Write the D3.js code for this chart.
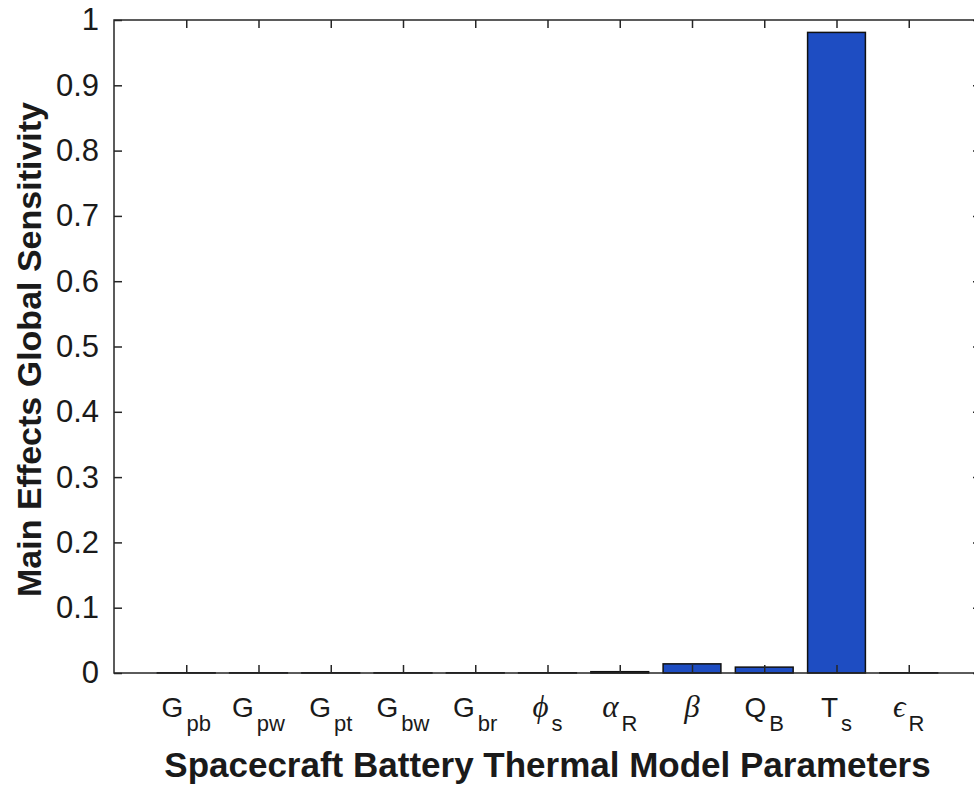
<!DOCTYPE html>
<html>
<head>
<meta charset="utf-8">
<script src="https://cdn.jsdelivr.net/npm/d3@7"></script>
<style>
  html, body { margin: 0; padding: 0; background: #fff; }
  svg { display: block; }
</style>
</head>
<body>
<svg id="chart" width="974" height="789"></svg>
<script>
// Parameter names: main symbol, subscript, and whether the symbol is a Greek letter
const paramSymbols = ["G", "G", "G", "G", "G", "\u03D5", "\u03B1", "\u03B2", "Q", "T", "\u03F5"];
const paramSubs    = ["pb", "pw", "pt", "bw", "br", "s", "R", "", "B", "s", "R"];
const paramGreek   = [false, false, false, false, false, true, true, true, false, false, true];

// Main effects (first-order) global sensitivity index of each parameter
const sensitivity = [0.0003, 0.0003, 0.0003, 0.0003, 0.0003, 0.0003, 0.002, 0.014, 0.009, 0.981, 0.0003];

const yTicks = [0, 0.1, 0.2, 0.3, 0.4, 0.5, 0.6, 0.7, 0.8, 0.9, 1];
const yTickLabels = ["0", "0.1", "0.2", "0.3", "0.4", "0.5", "0.6", "0.7", "0.8", "0.9", "1"];

const xTitle = "Spacecraft Battery Thermal Model Parameters";
const yTitle = "Main Effects Global Sensitivity";

const svg = d3.select("#chart");
const plot = { left: 114, right: 981, top: 20, bottom: 673 };
const axisColor = "#262626";
const textColor = "#1a1a1a";
const sansFont = "'Liberation Sans', Arial, Helvetica, sans-serif";
const serifFont = "'Liberation Serif', 'DejaVu Serif', serif";

const x = d3.scaleLinear().domain([0, sensitivity.length + 1]).range([plot.left, plot.right]);
const y = d3.scaleLinear().domain([0, 1]).range([plot.bottom, plot.top]);
const positions = sensitivity.map((_, i) => i + 1);
const barWidth = 0.8;

// Bars
svg.append("g")
  .selectAll("rect")
  .data(sensitivity)
  .join("rect")
  .attr("x", (d, i) => x(positions[i] - barWidth / 2))
  .attr("width", (d, i) => x(positions[i] + barWidth / 2) - x(positions[i] - barWidth / 2))
  .attr("y", d => y(d))
  .attr("height", d => y(0) - y(d))
  .attr("fill", "#1e4dc2")
  .attr("stroke", "#111")
  .attr("stroke-width", 1.5);

// Axes with inward ticks, box style
const tickLen = 8;
const styleAxis = g => {
  g.select(".domain").remove();
  g.selectAll(".tick line").attr("stroke", axisColor).attr("stroke-width", 1.5);
};

svg.append("g")
  .attr("transform", `translate(${plot.left},0)`)
  .call(d3.axisLeft(y).tickValues(yTicks).tickSize(-tickLen)
    .tickFormat((d, i) => yTickLabels[i]).tickPadding(15))
  .call(styleAxis)
  .call(g => g.selectAll(".tick text")
    .attr("font-family", sansFont).attr("font-size", 31).attr("fill", textColor));

svg.append("g")
  .attr("transform", `translate(${plot.right},0)`)
  .call(d3.axisRight(y).tickValues(yTicks).tickSize(-tickLen).tickFormat(""))
  .call(styleAxis);

svg.append("g")
  .attr("transform", `translate(0,${plot.bottom})`)
  .call(d3.axisBottom(x).tickValues(positions).tickSize(-tickLen).tickFormat(""))
  .call(styleAxis);

svg.append("g")
  .attr("transform", `translate(0,${plot.top})`)
  .call(d3.axisTop(x).tickValues(positions).tickSize(-tickLen).tickFormat(""))
  .call(styleAxis);

// Axes box
svg.append("rect")
  .attr("x", plot.left).attr("y", plot.top)
  .attr("width", plot.right - plot.left).attr("height", plot.bottom - plot.top)
  .attr("fill", "none").attr("stroke", axisColor).attr("stroke-width", 1.5);

// Category labels with subscripts
const labels = svg.append("g")
  .selectAll("text")
  .data(positions)
  .join("text")
  .attr("x", d => x(d))
  .attr("y", 717)
  .attr("text-anchor", "middle")
  .attr("fill", textColor)
  .attr("font-family", sansFont)
  .attr("font-size", 28);

labels.append("tspan")
  .text((d, i) => paramSymbols[i])
  .attr("font-family", (d, i) => paramGreek[i] ? serifFont : sansFont)
  .attr("font-style", (d, i) => paramGreek[i] ? "italic" : "normal")
  .attr("font-size", (d, i) => paramGreek[i] ? 31 : 28);

labels.append("tspan")
  .text((d, i) => paramSubs[i])
  .attr("font-size", 22)
  .attr("dx", 3)
  .attr("dy", (d, i) => paramSubs[i] ? 14 : 0);

// Axis titles
svg.append("text")
  .attr("x", (plot.left + plot.right) / 2)
  .attr("y", 777)
  .attr("text-anchor", "middle")
  .attr("font-family", sansFont)
  .attr("font-weight", "bold")
  .attr("font-size", 35)
  .attr("fill", textColor)
  .text(xTitle);

svg.append("text")
  .attr("transform", `translate(41,${(plot.top + plot.bottom) / 2 + 3}) rotate(-90)`)
  .attr("text-anchor", "middle")
  .attr("font-family", sansFont)
  .attr("font-weight", "bold")
  .attr("font-size", 34)
  .attr("fill", textColor)
  .text(yTitle);
</script>
</body>
</html>
